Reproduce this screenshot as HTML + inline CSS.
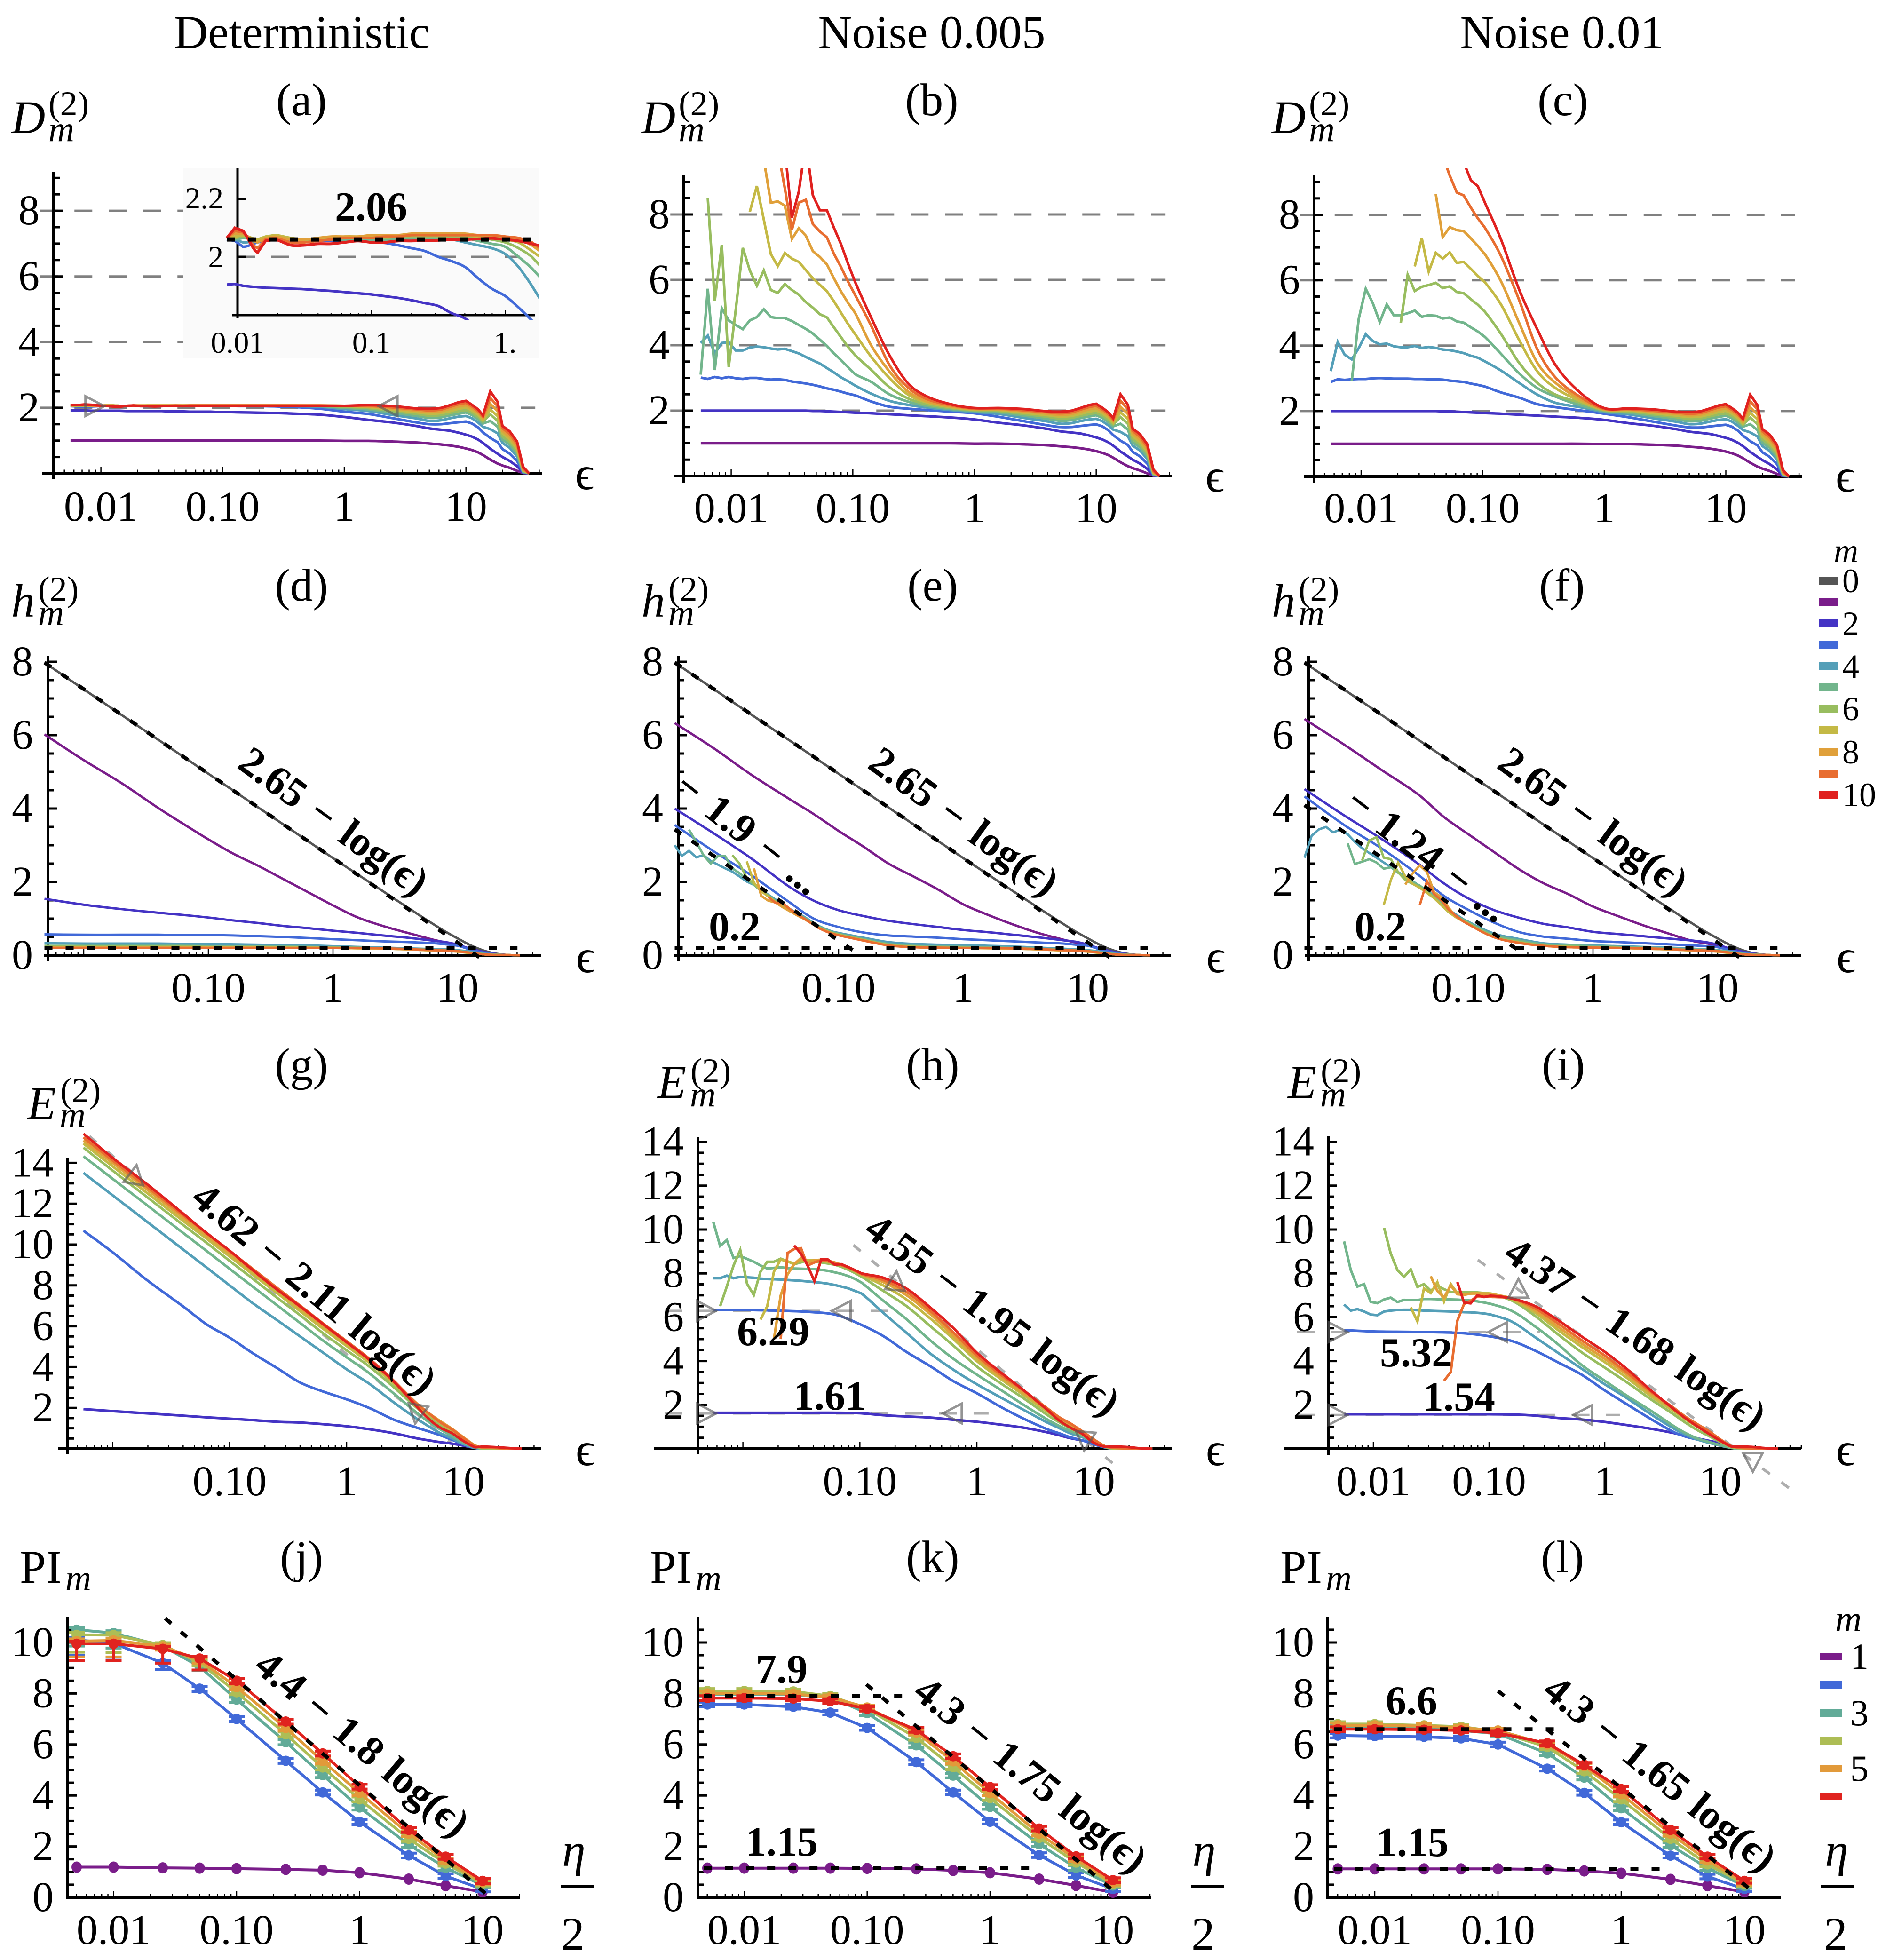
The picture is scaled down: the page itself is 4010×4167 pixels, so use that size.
<!DOCTYPE html>
<html lang="en">
<head>
<meta charset="utf-8">
<title>Correlation dimension, entropy and PI panels</title>
<style>
html,body{margin:0;padding:0;background:#fff}
svg{display:block}
text{font-family:"Liberation Serif","DejaVu Serif",serif;fill:#000}
.it{font-style:italic}
.b{font-weight:bold}
</style>
</head>
<body>
<svg id="fig" xmlns="http://www.w3.org/2000/svg" width="4010" height="4167" viewBox="0 0 4010 4167">
<rect width="4010" height="4167" fill="#fff"/>
<g id="plots"></g>
<g font-size="100" text-anchor="middle">
<text x="642" y="102">Deterministic</text>
<text x="1981" y="102">Noise 0.005</text>
<text x="3321" y="102">Noise 0.01</text>
</g>
<g font-size="97" text-anchor="middle">
<text x="641" y="245">(a)</text>
<text x="1981" y="245">(b)</text>
<text x="3323" y="245">(c)</text>
<text x="641" y="1277">(d)</text>
<text x="1983" y="1277">(e)</text>
<text x="3321" y="1277">(f)</text>
<text x="641" y="2296">(g)</text>
<text x="1983" y="2296">(h)</text>
<text x="3324" y="2296">(i)</text>
<text x="641" y="3343">(j)</text>
<text x="1983" y="3343">(k)</text>
<text x="3322" y="3343">(l)</text>
</g>
<g>
<g><text class="it" font-size="100" x="24" y="283">D</text><text font-size="74" x="103" y="245">(2)</text><text class="it" font-size="76" x="103" y="300">m</text></g>
<g><text class="it" font-size="100" x="1364" y="283">D</text><text font-size="74" x="1443" y="245">(2)</text><text class="it" font-size="76" x="1443" y="300">m</text></g>
<g><text class="it" font-size="100" x="2704" y="283">D</text><text font-size="74" x="2783" y="245">(2)</text><text class="it" font-size="76" x="2783" y="300">m</text></g>
<g><text class="it" font-size="100" x="24" y="1311">h</text><text font-size="74" x="81" y="1277">(2)</text><text class="it" font-size="76" x="81" y="1328">m</text></g>
<g><text class="it" font-size="100" x="1364" y="1311">h</text><text font-size="74" x="1421" y="1277">(2)</text><text class="it" font-size="76" x="1421" y="1328">m</text></g>
<g><text class="it" font-size="100" x="2704" y="1311">h</text><text font-size="74" x="2761" y="1277">(2)</text><text class="it" font-size="76" x="2761" y="1328">m</text></g>
<g><text class="it" font-size="100" x="58" y="2379">E</text><text font-size="74" x="128" y="2343">(2)</text><text class="it" font-size="76" x="127" y="2395">m</text></g>
<g><text class="it" font-size="100" x="1398" y="2334">E</text><text font-size="74" x="1468" y="2301">(2)</text><text class="it" font-size="76" x="1467" y="2352">m</text></g>
<g><text class="it" font-size="100" x="2738" y="2334">E</text><text font-size="74" x="2808" y="2301">(2)</text><text class="it" font-size="76" x="2807" y="2352">m</text></g>
<g><text font-size="100" x="42" y="3365">PI</text><text class="it" font-size="76" x="139" y="3380">m</text></g>
<g><text font-size="100" x="1382" y="3365">PI</text><text class="it" font-size="76" x="1479" y="3380">m</text></g>
<g><text font-size="100" x="2722" y="3365">PI</text><text class="it" font-size="76" x="2819" y="3380">m</text></g>
</g>
<g font-size="100" text-anchor="middle">
<text x="1243" y="1040">ϵ</text>
<text x="2583" y="1045">ϵ</text>
<text x="3923" y="1045">ϵ</text>
<text x="1245" y="2067">ϵ</text>
<text x="2585" y="2067">ϵ</text>
<text x="3925" y="2067">ϵ</text>
<text x="1244" y="3115">ϵ</text>
<text x="2584" y="3115">ϵ</text>
<text x="3924" y="3115">ϵ</text>
</g>
<g font-size="100" text-anchor="middle">
<g><text class="it" x="1220" y="3967">η</text><rect x="1192" y="4007" width="70" height="7" fill="#000"/><text x="1218" y="4145">2</text></g>
<g><text class="it" x="2560" y="3967">η</text><rect x="2532" y="4007" width="70" height="7" fill="#000"/><text x="2558" y="4145">2</text></g>
<g><text class="it" x="3905" y="3967">η</text><rect x="3871" y="4007" width="70" height="7" fill="#000"/><text x="3903" y="4145">2</text></g>
</g>
<g class="b" font-weight="bold" font-size="88" text-anchor="middle">
<text x="789" y="469">2.06</text>
<text word-spacing="8" transform="rotate(36 709 1747)" x="709" y="1775">2.65 − log(ϵ)</text>
<text word-spacing="8" transform="rotate(36 2049 1747)" x="2049" y="1775">2.65 − log(ϵ)</text>
<text word-spacing="8" transform="rotate(36 3387 1747)" x="3387" y="1775">2.65 − log(ϵ)</text>
<text word-spacing="8" transform="rotate(38 1591 1772)" x="1591" y="1800">− 1.9 − ...</text>
<text word-spacing="8" transform="rotate(37.5 3035 1818)" x="3035" y="1846">− 1.24 − ...</text>
<text x="1562" y="1999">0.2</text>
<text x="2935" y="1999">0.2</text>
<text word-spacing="6" transform="rotate(40 668 2740)" x="668" y="2768">4.62 − 2.11 log(ϵ)</text>
<text word-spacing="6" transform="rotate(37 2110 2796)" x="2110" y="2824">4.55 − 1.95 log(ϵ)</text>
<text word-spacing="6" transform="rotate(34.5 3477 2836)" x="3477" y="2864">4.37 − 1.68 log(ϵ)</text>
<text x="1644" y="2860">6.29</text>
<text x="1764" y="2997">1.61</text>
<text x="3011" y="2905">5.32</text>
<text x="3102" y="2999">1.54</text>
<text word-spacing="6" transform="rotate(40 770 3708)" x="770" y="3736">4.4 − 1.8 log(ϵ)</text>
<text word-spacing="6" transform="rotate(39 2191 3774)" x="2191" y="3802">4.3 − 1.75 log(ϵ)</text>
<text word-spacing="6" transform="rotate(39 3529 3771)" x="3529" y="3799">4.3 − 1.65 log(ϵ)</text>
<text x="1662" y="3578">7.9</text>
<text x="1662" y="3945">1.15</text>
<text x="3001" y="3645">6.6</text>
<text x="3003" y="3946">1.15</text>
</g>
<g font-size="72">
<text class="it" x="3925" y="1195" text-anchor="middle">m</text>
<rect x="3868" y="1226" width="40" height="17" fill="#555555"/><text x="3917" y="1259">0</text>
<rect x="3868" y="1272" width="40" height="17" fill="#7a1d8a"/>
<rect x="3868" y="1317" width="40" height="17" fill="#4433c4"/><text x="3917" y="1350">2</text>
<rect x="3868" y="1363" width="40" height="17" fill="#4169d8"/>
<rect x="3868" y="1408" width="40" height="17" fill="#549fb8"/><text x="3917" y="1441">4</text>
<rect x="3868" y="1453" width="40" height="17" fill="#72b58c"/>
<rect x="3868" y="1498" width="40" height="17" fill="#98bd5f"/><text x="3917" y="1531">6</text>
<rect x="3868" y="1544" width="40" height="17" fill="#c4b945"/>
<rect x="3868" y="1590" width="40" height="17" fill="#e0a03a"/><text x="3917" y="1623">8</text>
<rect x="3868" y="1636" width="40" height="17" fill="#e86d30"/>
<rect x="3868" y="1681" width="40" height="17" fill="#e0211f"/><text x="3917" y="1714">10</text>
</g>
<g font-size="78">
<text class="it" x="3930" y="3468" text-anchor="middle">m</text>
<rect x="3870" y="3514" width="47" height="16" fill="#7a1d8a"/><text x="3934" y="3548">1</text>
<rect x="3870" y="3574" width="47" height="16" fill="#4169d8"/>
<rect x="3870" y="3634" width="47" height="16" fill="#62ab98"/><text x="3934" y="3668">3</text>
<rect x="3870" y="3693" width="47" height="16" fill="#adbd55"/>
<rect x="3870" y="3752" width="47" height="16" fill="#e29a3a"/><text x="3934" y="3786">5</text>
<rect x="3870" y="3811" width="47" height="16" fill="#e0231f"/>
</g>
</svg>
<script>
const n = null;
/* ---------- shared x grids (log10 of epsilon / eta) ---------- */
const logD = [-2.25,-2.192,-2.135,-2.077,-2.02,-1.962,-1.904,-1.847,-1.789,-1.732,-1.674,-1.617,-1.559,-1.501,-1.444,-1.386,-1.329,-1.271,-1.213,-1.156,-1.098,-1.04,-.983,-.85,-.7,-.55,-.4,-.2,0,.2,.4,.6,.7,.8,.87,.94,1,1.05,1.1,1.14,1.2,1.26,1.3,1.36,1.42,1.47,1.52];
const logInset = [-2.08,-2.02,-1.96,-1.85,-1.79,-1.72,-1.6,-1.5,-1.4,-1.3,-1.2,-1.1,-1,-.9,-.8,-.7,-.6,-.5,-.4,-.3,-.2,-.1,0,.1,.2,.26];
const logHC = [-2.315,-2,-1.7,-1.4,-1.2,-1,-.8,-.6,-.4,-.2,0,.2,.4,.6,.8,.9,1,1.1,1.2,1.3,1.4,1.5];
const logHF = [-2.315,-2.257,-2.2,-2.142,-2.084,-2.026,-1.968,-1.91,-1.853,-1.795,-1.737,-1.679,-1.621,-1.564,-1.506,-1.448,-1.39,-1.332,-1.275,-1.217,-1.159,-1.101,-1.043,-.8,-.6,-.4,-.2,0,.2,.4,.6,.8,.9,1,1.1,1.2,1.3,1.4,1.5];
const logEC = [-2.25,-2,-1.7,-1.4,-1.2,-1,-.8,-.6,-.4,-.2,0,.2,.4,.6,.7,.8,.9,1,1.1,1.15,1.2,1.3,1.4,1.5];
const logEF = [-2.253,-2.195,-2.138,-2.08,-2.023,-1.965,-1.907,-1.85,-1.792,-1.735,-1.677,-1.619,-1.562,-1.504,-1.447,-1.389,-1.331,-1.274,-1.216,-1.159,-1.101,-1.043,-.986,-.8,-.6,-.4,-.2,0,.2,.4,.6,.7,.8,.9,1,1.1,1.15,1.2,1.3,1.4,1.5];
const logPI = [-2.3,-2,-1.6,-1.3,-1,-.6,-.3,0,.4,.7,1];
const xTickLogs = [-2,-1,0,1];
const xTickText = ['0.01','0.10','1','10'];
const xTickLogsNoLow = [-1,0,1];
const xTickTextNoLow = ['0.10','1','10'];

/* ---------- D panels: shared tail for eps > 1 ---------- */
const Dtail_m1 = [.99,.97,.94,.91,.88,.85,.81,.76,.71,.64,.56,.42,.3,.24,.17,.08,.01,0];
const Dtail_m2 = [1.63,1.55,1.44,1.37,1.33,1.3,1.24,1.18,1.12,1.03,.93,.75,.6,.5,.38,.22,.02,0];
const Dtail_m3 = [1.81,1.68,1.55,1.5,1.5,1.53,1.56,1.58,1.52,1.4,1.25,1.08,.95,.74,.6,.38,.03,0];
const Dtail_m4 = [1.9,1.78,1.67,1.6,1.62,1.68,1.73,1.75,1.68,1.55,1.42,1.35,1.22,.93,.78,.52,.04,0];
const Dtail_m5 = [1.95,1.85,1.75,1.69,1.71,1.77,1.82,1.86,1.78,1.65,1.52,1.6,1.42,1.03,.88,.6,.06,0];
const Dtail_m6 = [1.99,1.9,1.81,1.76,1.78,1.84,1.9,1.93,1.85,1.72,1.58,1.8,1.6,1.13,.96,.68,.08,0];
const Dtail_m7 = [2.02,1.94,1.86,1.82,1.84,1.9,1.97,2.01,1.92,1.79,1.62,1.95,1.75,1.22,1.04,.75,.1,0];
const Dtail_m8 = [2.04,1.98,1.91,1.87,1.9,1.97,2.04,2.08,1.98,1.85,1.68,2.12,1.9,1.3,1.12,.82,.12,0];
const Dtail_m9 = [2.06,2.01,1.95,1.92,1.95,2.03,2.11,2.15,2.04,1.9,1.73,2.3,2.05,1.38,1.2,.9,.15,0];
const Dtail_m10 = [2.08,2.05,1.98,1.97,2.0,2.08,2.17,2.21,2.09,1.95,1.77,2.5,2.18,1.45,1.28,.97,.2,0];
const Dhead_m1 = [1,1,1,1,1,1,1,1,1,1,1,1,1,1,1,1,1,1,1,1,1,1,1,1,1,1,1,1,.99];
const Dhead_bc_m2 = [2,2,2,2,2,2,2,2,2,2,2,2,2,2,2,2,1.99,1.99,1.98,1.97,1.96,1.95,1.94,1.92,1.89,1.86,1.83,1.79,1.73];
/* panel a */
const Da_m2 = [1.92,1.92,1.92,1.91,1.91,1.91,1.91,1.91,1.9,1.9,1.9,1.9,1.9,1.9,1.89,1.89,1.89,1.88,1.88,1.88,1.88,1.87,1.87,1.86,1.85,1.84,1.82,1.79,1.72];
const Da_m3 = [2.05,2.04,2.03,2.04,2.05,2.06,2.06,2.06,2.06,2.06,2.05,2.05,2.05,2.05,2.06,2.06,2.06,2.06,2.06,2.06,2.06,2.06,2.06,2.05,2.05,2.04,2.02,1.97,1.88];
const Da_m4 = [2.06,2.06,2.05,2.05,2.06,2.06,2.07,2.06,2.06,2.06,2.06,2.06,2.06,2.06,2.06,2.06,2.06,2.06,2.06,2.06,2.06,2.06,2.06,2.06,2.06,2.06,2.05,2.03,1.96];
const Da_m5 = [2.06,2.06,2.06,2.05,2.06,2.07,2.07,2.06,2.06,2.06,2.06,2.06,2.06,2.06,2.06,2.06,2.06,2.06,2.06,2.06,2.06,2.06,2.06,2.06,2.06,2.06,2.06,2.05,2.0];
const Da_m6 = [2.06,2.07,2.07,2.06,2.06,2.07,2.07,2.06,2.06,2.06,2.06,2.06,2.06,2.06,2.06,2.06,2.06,2.06,2.06,2.06,2.06,2.06,2.06,2.06,2.06,2.06,2.06,2.06,2.03];
const Da_m7 = [2.07,2.07,2.07,2.06,2.06,2.07,2.07,2.06,2.06,2.06,2.06,2.07,2.07,2.07,2.07,2.07,2.07,2.07,2.07,2.07,2.07,2.07,2.07,2.07,2.07,2.07,2.07,2.06,2.05];
const Da_m8 = [2.07,2.08,2.08,2.07,2.06,2.07,2.07,2.06,2.06,2.07,2.07,2.07,2.07,2.07,2.07,2.07,2.07,2.07,2.07,2.07,2.07,2.07,2.07,2.07,2.07,2.07,2.07,2.07,2.06];
const Da_m9 = [2.08,2.08,2.09,2.08,2.06,2.06,2.06,2.05,2.06,2.07,2.06,2.06,2.06,2.06,2.06,2.07,2.06,2.07,2.07,2.07,2.07,2.07,2.07,2.07,2.07,2.07,2.07,2.07,2.06];
const Da_m10 = [2.08,2.08,2.1,2.09,2.07,2.06,2.04,2.03,2.06,2.07,2.05,2.05,2.04,2.05,2.06,2.06,2.05,2.06,2.06,2.06,2.06,2.06,2.06,2.06,2.06,2.06,2.06,2.06,2.06];
/* inset of panel a */
const In_m2 = [1.904,1.906,1.9,1.895,1.893,1.892,1.89,1.888,1.885,1.882,1.878,1.874,1.87,1.864,1.858,1.85,1.84,1.83,1.805,1.787,1.75,1.72,1.68,1.64,1.6,1.57];
const In_m3 = [2.06,2.055,2.035,2.05,2.055,2.06,2.06,2.055,2.055,2.055,2.055,2.055,2.05,2.048,2.04,2.03,2.02,2.0,1.985,1.965,1.925,1.89,1.865,1.825,1.78,1.75];
const In_m4 = [2.06,2.06,2.05,2.055,2.06,2.065,2.06,2.06,2.06,2.06,2.06,2.06,2.06,2.06,2.06,2.06,2.06,2.06,2.06,2.05,2.04,2.03,2.01,1.965,1.9,1.855];
const In_m5 = [2.06,2.06,2.065,2.06,2.065,2.075,2.06,2.06,2.06,2.06,2.06,2.06,2.06,2.06,2.06,2.065,2.065,2.065,2.065,2.065,2.055,2.045,2.035,2.0,1.96,1.93];
const In_m6 = [2.06,2.065,2.07,2.06,2.07,2.075,2.06,2.06,2.06,2.065,2.065,2.065,2.065,2.065,2.07,2.07,2.07,2.07,2.07,2.07,2.065,2.06,2.05,2.03,2.0,1.97];
const In_m7 = [2.065,2.07,2.075,2.06,2.07,2.075,2.065,2.06,2.065,2.065,2.07,2.07,2.07,2.07,2.075,2.075,2.075,2.075,2.075,2.075,2.07,2.07,2.06,2.05,2.02,2.0];
const In_m8 = [2.065,2.08,2.08,2.05,2.065,2.07,2.06,2.06,2.065,2.07,2.07,2.07,2.075,2.075,2.075,2.08,2.08,2.08,2.08,2.08,2.075,2.075,2.07,2.06,2.04,2.02];
const In_m9 = [2.065,2.09,2.085,2.03,2.06,2.065,2.05,2.05,2.055,2.06,2.065,2.065,2.065,2.07,2.07,2.075,2.075,2.075,2.075,2.075,2.075,2.075,2.07,2.065,2.05,2.03];
const In_m10 = [2.065,2.1,2.09,2.015,2.055,2.06,2.04,2.04,2.045,2.045,2.05,2.055,2.05,2.05,2.055,2.055,2.056,2.057,2.06,2.06,2.062,2.064,2.06,2.055,2.045,2.038];
/* panel b */
const Db_m3 = [3.01,2.97,3.03,2.99,3.03,2.99,2.97,3.0,3.0,2.97,2.95,2.96,2.94,2.89,2.86,2.83,2.79,2.74,2.68,2.64,2.58,2.52,2.47,2.28,2.12,2.06,2.02,1.97,1.92];
const Db_m4 = [4.07,4.3,3.75,4.07,4.09,3.84,3.84,3.93,3.96,3.94,3.9,3.87,3.89,3.82,3.75,3.64,3.54,3.44,3.3,3.17,3.02,2.9,2.77,2.52,2.3,2.18,2.1,2.02,1.96];
const Db_m5 = [3.1,5.73,3.24,5.13,4.76,4.62,4.49,4.76,4.86,5.1,4.86,4.83,4.83,4.74,4.62,4.5,4.36,4.17,3.98,3.75,3.55,3.33,3.12,2.88,2.5,2.28,2.15,2.05,1.99];
const Db_m6 = [n,8.5,5.36,7.07,3.34,5.09,6.98,6.29,5.82,6.29,5.69,5.6,5.87,5.69,5.55,5.32,5.15,4.95,4.85,4.55,4.25,3.95,3.7,3.25,2.72,2.38,2.2,2.08,2.01];
const Db_m7 = [n,n,n,n,n,n,n,8.08,8.87,7.85,6.79,6.42,6.82,6.65,6.55,6.3,6.05,5.85,5.65,5.35,5.0,4.65,4.35,3.65,3.0,2.5,2.26,2.11,2.03];
const Db_m8 = [n,n,n,n,n,n,n,n,n,9.7,8.36,8.4,8.27,7.25,7.58,7.35,6.88,6.7,6.47,6.05,5.65,5.3,5.0,4.0,3.2,2.6,2.3,2.13,2.05];
const Db_m9 = [n,n,n,n,n,n,n,n,n,n,n,10,8.8,7.53,8.36,8.45,7.71,7.48,7.3,6.8,6.4,5.95,5.55,4.6,3.4,2.72,2.37,2.17,2.06];
const Db_m10 = [n,n,n,n,n,n,n,n,n,n,n,n,10,7.9,8.7,10.2,8.59,8.13,8.13,7.6,7.1,6.5,5.95,4.85,3.7,2.85,2.45,2.2,2.08];
/* panel c */
const Dc_m3 = [2.89,2.97,2.95,2.97,2.98,2.98,3.0,3.01,3.0,2.99,2.99,2.99,2.98,2.98,2.97,2.97,2.96,2.93,2.91,2.89,2.84,2.8,2.75,2.57,2.41,2.21,2.12,2.02,1.92];
const Dc_m4 = [3.22,4.11,3.72,3.58,3.92,4.35,4.14,4.04,4.06,3.98,3.95,3.95,3.99,3.93,3.96,3.93,3.88,3.86,3.82,3.77,3.69,3.63,3.52,3.24,2.86,2.5,2.25,2.12,1.97];
const Dc_m5 = [n,n,n,2.92,4.81,5.74,5.3,4.72,5.26,4.93,4.93,4.99,5.07,4.88,4.93,4.91,4.83,4.86,4.74,4.7,4.56,4.43,4.27,3.75,3.15,2.7,2.44,2.18,2.0];
const Dc_m6 = [n,n,n,n,n,n,n,n,n,n,4.69,6.17,5.67,5.8,5.85,5.92,5.76,5.81,5.64,5.6,5.42,5.25,5.04,4.36,3.47,2.86,2.5,2.26,2.02];
const Dc_m7 = [n,n,n,n,n,n,n,n,n,n,n,n,6.42,7.28,6.26,6.84,6.66,6.85,6.53,6.56,6.35,6.13,5.94,5.26,4.17,3.21,2.7,2.31,2.04];
const Dc_m8 = [n,n,n,n,n,n,n,n,n,n,n,n,n,n,n,8.63,7.32,7.62,7.53,7.5,7.28,7.05,6.8,5.97,4.69,3.47,2.86,2.37,2.05];
const Dc_m9 = [n,n,n,n,n,n,n,n,n,n,n,n,n,n,n,n,9.8,9.2,8.68,8.59,8.22,7.89,7.61,6.74,5.39,3.88,3.02,2.44,2.07];
const Dc_m10 = [n,n,n,n,n,n,n,n,n,n,n,n,n,n,n,n,n,n,n,9.6,9.06,8.87,8.38,7.25,5.71,4.49,3.4,2.57,2.09];

/* ---------- h panels ---------- */
const H_m0 = [7.98,7.25,6.56,5.87,5.41,4.95,4.49,4.03,3.57,3.11,2.65,2.2,1.75,1.3,.86,.65,.46,.28,.14,.05,.01,0];
const Hd_m1 = [6.02,5.32,4.7,4.01,3.58,3.16,2.77,2.44,2.08,1.72,1.36,1.03,.8,.61,.43,.35,.27,.16,.08,.03,.01,0];
const Hd_m2 = [1.54,1.38,1.26,1.16,1.1,1.03,.95,.88,.8,.74,.67,.61,.54,.48,.4,.36,.29,.18,.1,.04,.01,0];
const Hd_m3 = [.57,.56,.56,.56,.55,.55,.54,.52,.5,.47,.44,.41,.38,.36,.33,.3,.26,.16,.08,.03,.01,0];
const Hd_m4 = [.33,.32,.32,.32,.31,.31,.3,.29,.28,.27,.25,.23,.21,.19,.17,.16,.14,.1,.05,.02,.01,0];
const Hd_m5 = [.26,.26,.26,.26,.26,.25,.25,.24,.24,.23,.22,.21,.19,.17,.15,.14,.12,.08,.04,.02,.01,0];
const Hd_m6 = [.24,.24,.24,.24,.24,.23,.23,.23,.22,.22,.21,.2,.19,.16,.14,.13,.11,.07,.03,.01,.01,0];
const Hd_m7 = [.22,.22,.22,.22,.22,.22,.22,.21,.21,.21,.2,.19,.18,.16,.13,.12,.1,.06,.03,.01,.01,0];
const Hd_m8 = [.21,.21,.21,.21,.21,.21,.21,.21,.2,.2,.2,.19,.18,.16,.13,.12,.1,.07,.03,.01,.01,0];
const Hd_m9 = [.2,.2,.2,.2,.2,.2,.2,.2,.2,.2,.2,.2,.19,.17,.14,.13,.11,.07,.03,.01,.01,0];
const He_m1 = [6.33,5.64,4.92,4.27,3.85,3.39,2.96,2.5,2.15,1.79,1.39,1.1,.84,.61,.43,.35,.27,.16,.08,.03,.01,0];
const He_m2 = [4.0,3.32,2.64,1.88,1.49,1.23,1.07,.94,.85,.77,.69,.63,.56,.49,.41,.37,.29,.18,.1,.04,.01,0];
const He_m3 = [3.55,2.83,2.18,1.46,1.0,.77,.62,.54,.51,.48,.44,.41,.38,.35,.32,.29,.26,.16,.08,.03,.01,0];
const He_m4 = [3.0,2.71,2.85,2.67,2.73,2.57,2.47,2.37,2.28,2.15,2.01,1.92,1.79,1.65,1.52,1.39,1.26,1.15,1.05,.92,.8,.71,.64,.48,.36,.31,.29,.28,.26,.24,.21,.18,.16,.14,.1,.05,.02,.01,0];
const He_m5 = [n,n,3.42,3.09,2.73,2.5,2.7,2.7,2.37,2.24,2.08,1.92,1.75,1.62,1.48,1.35,1.23,1.12,1.02,.9,.78,.69,.62,.44,.31,.26,.24,.23,.22,.2,.18,.15,.14,.12,.08,.04,.02,.01,0];
const He_m6 = [n,n,n,n,n,n,n,n,2.73,2.5,2.11,1.95,1.77,1.62,1.46,1.33,1.21,1.1,1.0,.88,.76,.67,.6,.42,.29,.24,.22,.21,.2,.19,.17,.14,.13,.11,.07,.03,.01,.01,0];
const He_m7 = [n,n,n,n,n,n,n,n,n,n,2.56,1.98,1.75,1.6,1.45,1.32,1.2,1.09,.99,.87,.75,.66,.59,.41,.28,.23,.21,.2,.2,.18,.16,.13,.12,.1,.06,.03,.01,.01,0];
const He_m8 = [n,n,n,n,n,n,n,n,n,n,n,2.37,1.62,1.49,1.44,1.31,1.2,1.09,.99,.87,.75,.66,.58,.41,.27,.22,.2,.2,.19,.18,.16,.13,.12,.1,.07,.03,.01,.01,0];
const He_m9 = [n,n,n,n,n,n,n,n,n,n,n,n,n,1.59,1.43,1.42,1.26,1.12,1.0,.87,.74,.65,.58,.4,.27,.22,.21,.2,.2,.19,.17,.14,.13,.11,.07,.03,.01,.01,0];
const Hf_m1 = [6.44,5.75,5.06,4.38,3.78,3.3,2.83,2.36,1.97,1.67,1.33,1.07,.82,.6,.39,.33,.27,.16,.08,.03,.01,0];
const Hf_m2 = [4.53,3.82,3.18,2.49,1.97,1.55,1.24,1.03,.86,.76,.64,.58,.52,.46,.4,.36,.29,.18,.1,.04,.01,0];
const Hf_m3 = [4.33,3.56,2.92,2.19,1.63,1.24,.9,.64,.51,.45,.39,.36,.33,.3,.27,.25,.22,.14,.07,.03,.01,0];
const Hf_m4 = [2.66,3.26,3.43,3.5,3.35,3.43,3.3,3.09,2.92,2.79,2.66,2.53,2.4,2.27,2.15,2.02,1.89,1.76,1.63,1.42,1.24,1.12,.99,.6,.45,.33,.29,.27,.25,.23,.21,.18,.16,.14,.1,.05,.02,.01,0];
const Hf_m5 = [n,n,n,n,n,n,3.05,2.49,2.55,2.62,2.53,2.36,2.4,2.25,2.12,2.0,1.9,1.75,1.6,1.4,1.22,1.08,.97,.56,.41,.3,.27,.25,.23,.21,.19,.16,.15,.13,.09,.04,.02,.01,0];
const Hf_m6 = [n,n,n,n,n,n,n,n,2.58,3.13,3.22,2.66,2.62,2.27,2.05,1.95,1.85,1.72,1.58,1.38,1.2,1.06,.95,.52,.37,.27,.24,.22,.21,.19,.17,.14,.13,.11,.07,.03,.01,.01,0];
const Hf_m7 = [n,n,n,n,n,n,n,n,n,n,n,1.37,2.06,2.53,2.15,1.95,1.84,1.7,1.56,1.37,1.18,1.04,.93,.5,.35,.26,.23,.21,.2,.18,.16,.13,.12,.1,.06,.03,.01,.01,0];
const Hf_m8 = [n,n,n,n,n,n,n,n,n,n,n,n,n,n,1.93,2.23,2.45,2.27,1.72,1.59,1.3,1.06,.93,.5,.35,.26,.22,.21,.2,.18,.16,.13,.12,.1,.07,.03,.01,.01,0];
const Hf_m9 = [n,n,n,n,n,n,n,n,n,n,n,n,n,n,n,n,1.37,2.02,1.67,1.5,1.25,1.08,.93,.5,.34,.26,.22,.21,.2,.19,.17,.14,.13,.11,.07,.03,.01,.01,0];

/* ---------- E panels ---------- */
const Eg_m2 = [1.94,1.84,1.73,1.62,1.54,1.47,1.4,1.32,1.28,1.2,1.1,.95,.76,.51,.41,.32,.25,.15,.03,0,0,0,0,0];
const Eg_m3 = [10.68,9.62,8.23,6.98,6.1,5.44,4.67,3.97,3.25,2.8,2.42,1.98,1.43,1.03,.85,.66,.44,.22,.03,0,0,0,0,0];
const Eg_m4 = [13.51,12.41,11.09,9.77,8.89,8.0,7.12,6.32,5.51,4.7,3.89,3.16,2.28,1.47,1.1,.76,.51,.22,.03,0,0,0,0,0];
const Eg_m5 = [14.32,13.22,11.9,10.58,9.7,8.81,7.93,7.05,6.17,5.29,4.48,3.67,2.72,1.76,1.32,.95,.62,.29,.07,0,0,0,0,0];
const Eg_m6 = [14.75,13.62,12.3,10.97,10.1,9.2,8.32,7.42,6.55,5.65,4.82,4.0,3.03,2.0,1.55,1.15,.78,.42,.12,.02,.01,0,0,0];
const Eg_m7 = [14.95,13.83,12.5,11.17,10.3,9.42,8.53,7.65,6.75,5.87,5.03,4.18,3.2,2.13,1.68,1.27,.88,.5,.15,.05,.04,.02,0,0];
const Eg_m8 = [15.1,14.0,12.67,11.33,10.45,9.57,8.68,7.8,6.9,6.02,5.17,4.3,3.3,2.22,1.75,1.35,.98,.55,.15,.06,.05,.03,0,0];
const Eg_m9 = [15.25,14.12,12.8,11.45,10.58,9.68,8.8,7.9,7.02,6.13,5.27,4.38,3.35,2.2,1.75,1.3,.95,.52,.13,.07,.06,.03,.01,0];
const Eg_m10 = [15.43,14.25,12.93,11.53,10.58,9.7,8.74,7.82,6.98,6.1,5.22,4.33,3.31,2.06,1.47,1.03,.76,.37,.07,.1,.1,.07,.03,0];
const Eh_m2 = [1.64,1.64,1.64,1.64,1.64,1.62,1.53,1.47,1.42,1.32,1.23,1.1,.96,.75,.62,.48,.38,.25,.11,.03,0,0,0,0];
const Eh_m3 = [6.33,6.33,6.3,6.23,6.1,5.68,5.14,4.41,3.77,3.08,2.53,1.92,1.37,.89,.71,.52,.38,.2,.05,0,0,0,0,0];
const Eh_m4 = [7.78,7.78,7.9,7.78,7.84,7.82,7.8,7.76,7.74,7.73,7.72,7.7,7.68,7.66,7.63,7.6,7.57,7.53,7.47,7.4,7.32,7.2,7.08,6.2,5.28,4.35,3.6,2.94,2.35,1.77,1.2,.95,.7,.53,.29,.06,0,0,0,0,0];
const Eh_m5 = [10.34,9.25,9.52,8.7,8.79,8.66,8.53,8.36,8.22,8.25,8.28,8.24,8.22,8.21,8.2,8.19,8.16,8.12,8.05,7.98,7.88,7.75,7.58,6.75,5.9,4.95,4.1,3.38,2.7,2.0,1.34,1.05,.8,.58,.31,.07,0,0,0,0,0];
const Eh_m6 = [n,6.5,7.4,8.36,9.07,7.53,7.01,8.08,8.53,8.53,8.67,8.55,8.42,8.5,8.6,8.55,8.5,8.45,8.4,8.3,8.17,8.02,7.85,7.2,6.5,5.6,4.7,3.75,3.0,2.3,1.55,1.22,.92,.65,.35,.08,.02,.01,0,0,0];
const Eh_m7 = [n,n,n,n,n,n,n,5.89,6.5,8.08,8.63,8.55,8.45,8.6,8.6,8.6,8.58,8.52,8.45,8.36,8.25,8.1,7.93,7.45,6.8,5.95,5.0,4.0,3.2,2.45,1.7,1.35,1.03,.72,.38,.09,.03,.02,0,0,0];
const Eh_m8 = [n,n,n,n,n,n,n,n,n,5.0,6.99,7.95,8.42,8.7,8.5,8.6,8.62,8.58,8.5,8.4,8.28,8.13,7.96,7.6,7.0,6.15,5.15,4.15,3.3,2.55,1.8,1.42,1.12,.78,.42,.1,.04,.03,.01,0,0];
const Eh_m9 = [n,n,n,n,n,n,n,n,n,n,5.0,8.93,9.11,9.15,8.36,8.5,8.6,8.55,8.48,8.38,8.27,8.12,7.97,7.7,7.15,6.3,5.3,4.25,3.4,2.65,1.85,1.45,1.15,.8,.42,.1,.05,.03,.01,0,0];
const Eh_m10 = [n,n,n,n,n,n,n,n,n,n,n,n,9.27,8.9,8.36,7.64,8.63,8.63,8.4,8.42,8.29,8.15,8.0,7.8,7.3,6.45,5.5,4.38,3.5,2.67,1.78,1.3,.96,.68,.27,.08,.1,.1,.07,.02,0];
const Ei_m2 = [1.57,1.57,1.57,1.57,1.57,1.57,1.56,1.51,1.4,1.33,1.22,1.07,.91,.71,.58,.47,.36,.25,.09,.02,0,0,0,0];
const Ei_m3 = [5.41,5.35,5.33,5.31,5.26,5.13,4.91,4.47,3.93,3.38,2.66,2.0,1.35,.75,.55,.42,.3,.14,.03,0,0,0,0,0];
const Ei_m4 = [6.58,6.3,6.37,6.26,6.12,6.09,6.26,6.3,6.33,6.34,6.34,6.32,6.3,6.29,6.28,6.27,6.26,6.25,6.23,6.22,6.2,6.17,6.12,5.79,5.08,4.36,3.65,2.94,2.28,1.57,.91,.64,.42,.27,.14,.03,0,0,0,0,0];
const Ei_m5 = [9.46,8.15,7.4,7.51,6.7,6.64,6.81,6.89,6.69,6.79,6.78,6.78,6.83,6.83,6.82,6.81,6.81,6.8,6.78,6.76,6.72,6.67,6.61,6.28,5.57,4.75,3.82,3.1,2.39,1.73,1.02,.71,.47,.31,.16,.03,0,0,0,0,0];
const Ei_m6 = [n,n,n,n,n,n,10.07,8.91,8.15,7.84,8.18,7.38,7.51,7.21,7.42,7.28,7.15,7.13,7.14,7.14,7.13,7.1,7.05,6.75,6.05,5.2,4.4,3.7,3.0,2.25,1.55,1.18,.85,.58,.3,.06,.03,.02,.01,.01,0];
const Ei_m7 = [n,n,n,n,n,n,n,n,n,n,6.45,5.81,7.32,7.1,7.6,6.72,7.51,7.1,7.05,7.08,7.1,7.1,7.08,6.8,6.2,5.4,4.65,3.95,3.2,2.4,1.7,1.33,1.0,.7,.35,.08,.03,.02,.01,0,0];
const Ei_m8 = [n,n,n,n,n,n,n,n,n,n,n,n,n,7.87,7.2,6.9,7.45,7.05,7.02,7.08,7.08,7.07,7.05,6.85,6.3,5.55,4.8,4.1,3.35,2.52,1.8,1.42,1.1,.78,.4,.1,.05,.03,0,0,0];
const Ei_m9 = [n,n,n,n,n,n,n,n,n,n,n,n,n,n,n,3.1,3.5,5.84,6.6,6.75,6.95,6.95,6.93,6.85,6.4,5.7,4.95,4.25,3.45,2.6,1.85,1.45,1.12,.8,.42,.1,.05,.03,.01,0,0];
const Ei_m10 = [n,n,n,n,n,n,n,n,n,n,n,n,n,n,n,n,n,7.6,6.67,6.63,7.0,6.92,6.98,6.85,6.5,5.85,5.12,4.42,3.6,2.66,1.79,1.38,1.02,.68,.36,.09,.1,.1,.07,.02,0];

/* ---------- PI panels ---------- */
const Pj_m1 = [1.19,1.19,1.16,1.15,1.13,1.1,1.07,.97,.72,.46,.22];
const Pj_m2 = [10.1,9.97,9.19,8.19,7.0,5.36,4.12,2.96,1.65,.84,.32];
const Pj_m3 = [10.5,10.37,9.86,9.05,7.76,6.09,4.8,3.53,2.07,1.16,.48];
const Pj_m4 = [10.3,10.29,9.9,9.2,8.05,6.4,5.1,3.85,2.3,1.33,.55];
const Pj_m5 = [10.05,10.08,9.85,9.3,8.25,6.65,5.35,4.1,2.5,1.45,.6];
const Pj_m6 = [9.95,9.95,9.75,9.37,8.5,6.9,5.65,4.35,2.65,1.6,.65];
const Pk_m1 = [1.15,1.15,1.15,1.15,1.14,1.12,1.06,.97,.72,.47,.2];
const Pk_m2 = [7.57,7.57,7.48,7.25,6.65,5.31,4.12,2.97,1.66,.87,.33];
const Pk_m3 = [7.97,7.97,7.95,7.85,7.23,5.97,4.78,3.55,2.09,1.16,.47];
const Pk_m4 = [8.1,8.1,8.08,7.9,7.4,6.26,5.11,3.9,2.34,1.37,.53];
const Pk_m5 = [8.0,8.0,7.98,7.85,7.45,6.47,5.34,4.09,2.5,1.5,.58];
const Pk_m6 = [7.82,7.82,7.8,7.7,7.4,6.57,5.54,4.33,2.7,1.61,.68];
const Pl_m1 = [1.12,1.12,1.12,1.12,1.12,1.1,1.04,.95,.71,.46,.22];
const Pl_m2 = [6.35,6.33,6.3,6.24,6.0,5.05,4.1,2.95,1.64,.82,.33];
const Pl_m3 = [6.68,6.67,6.65,6.55,6.42,5.65,4.7,3.5,2.05,1.15,.45];
const Pl_m4 = [6.8,6.8,6.75,6.7,6.5,5.9,4.95,3.85,2.3,1.3,.53];
const Pl_m5 = [6.75,6.75,6.72,6.65,6.55,6.0,5.15,4.05,2.5,1.45,.58];
const Pl_m6 = [6.6,6.6,6.58,6.55,6.45,6.05,5.2,4.25,2.65,1.6,.65];
const errJ_m1 = [.04,.04,.04,.04,.04,.04,.04,.04,.04,.04,.04];
const errJ_m2 = [.6,.55,.25,.12,.1,.1,.1,.1,.1,.1,.1];
const errJ_m3 = [.64,.59,.1,.15,.12,.1,.1,.1,.1,.1,.1];
const errJ_m4 = [.68,.68,.12,.12,.1,.1,.1,.1,.1,.1,.1];
const errJ_m5 = [.62,.65,.15,.12,.1,.1,.1,.1,.1,.1,.1];
const errJ_m6 = [.66,.66,.56,.45,.12,.1,.1,.1,.1,.1,.1];
const errSmall = [.09,.09,.09,.09,.09,.09,.09,.09,.09,.09,.09];

/* ---------- colours ---------- */
const lineColors = ['#555555','#7a1d8a','#4433c4','#4169d8','#549fb8','#72b58c','#98bd5f','#c4b945','#e0a03a','#e86d30','#e0211f'];
const piColors = ['','#7a1d8a','#4169d8','#62ab98','#adbd55','#e29a3a','#e0231f'];

const NS = 'http://www.w3.org/2000/svg';
function add(parent, tag, attrs, txt){
  const el = document.createElementNS(NS, tag);
  for (const k in attrs) el.setAttribute(k, attrs[k]);
  if (txt !== undefined) el.textContent = txt;
  parent.appendChild(el);
  return el;
}
/* straight segments on the fine noisy grid, Hermite curves across sparse grid gaps */
function linePath(logs, vals, sx, sy, smooth){
  const pts = [];
  vals.forEach((v,i)=>{ if (v !== null) pts.push([logs[i], sx(logs[i]), sy(v)]); });
  const slope = i => {
    const a = pts[Math.max(i-1,0)], b = pts[Math.min(i+1,pts.length-1)];
    return (b[2]-a[2])/(b[1]-a[1]);
  };
  let d = 'M' + pts[0][1].toFixed(1) + ' ' + pts[0][2].toFixed(1);
  for (let i=1; i<pts.length; i++){
    const p = pts[i-1], q = pts[i];
    if (smooth && q[0]-p[0] >= .09){
      const h = (q[1]-p[1])/3;
      d += 'C' + (p[1]+h).toFixed(1) + ' ' + (p[2]+slope(i-1)*h).toFixed(1) + ' ' + (q[1]-h).toFixed(1) + ' ' + (q[2]-slope(i)*h).toFixed(1) + ' ' + q[1].toFixed(1) + ' ' + q[2].toFixed(1);
    } else {
      d += 'L' + q[1].toFixed(1) + ' ' + q[2].toFixed(1);
    }
  }
  return d;
}
function joinD(){
  const a = {a:[[1,Dhead_m1,Dtail_m1],[2,Da_m2,Dtail_m2],[3,Da_m3,Dtail_m3],[4,Da_m4,Dtail_m4],[5,Da_m5,Dtail_m5],[6,Da_m6,Dtail_m6],[7,Da_m7,Dtail_m7],[8,Da_m8,Dtail_m8],[9,Da_m9,Dtail_m9],[10,Da_m10,Dtail_m10]],
  b:[[1,Dhead_m1,Dtail_m1],[2,Dhead_bc_m2,Dtail_m2],[3,Db_m3,Dtail_m3],[4,Db_m4,Dtail_m4],[5,Db_m5,Dtail_m5],[6,Db_m6,Dtail_m6],[7,Db_m7,Dtail_m7],[8,Db_m8,Dtail_m8],[9,Db_m9,Dtail_m9],[10,Db_m10,Dtail_m10]],
  c:[[1,Dhead_m1,Dtail_m1],[2,Dhead_bc_m2,Dtail_m2],[3,Dc_m3,Dtail_m3],[4,Dc_m4,Dtail_m4],[5,Dc_m5,Dtail_m5],[6,Dc_m6,Dtail_m6],[7,Dc_m7,Dtail_m7],[8,Dc_m8,Dtail_m8],[9,Dc_m9,Dtail_m9],[10,Dc_m10,Dtail_m10]]};
  const out = {};
  for (const k in a) out[k] = a[k].map(r=>[r[0],logD,r[1].concat(r[2])]);
  return out;
}
const dSeries = joinD();
const GREY = '#808080', LIGHT = '#adadad';
const E_MAJ = [2,4,6,8,10,12,14], D_MAJ = [2,4,6,8], H_MAJ = [0,2,4,6,8], P_MAJ = [0,2,4,6,8,10];

const panels = [
 {id:'a',l0:732,dec:258.7,y0:1006.5,ys:69.8,ax:114,top:365,bot:1018,left:90,right:1152,ymaj:D_MAJ,yr:84,ty:xTickLogs,tt:xTickText,xb:1107,lw:5.5,
  series:dSeries.a,hdash:[[8,-2.5,.0,GREY],[6,-2.5,.0,GREY],[4,-2.5,.0,GREY],[2,-2.5,1.57,GREY]],tri:[[-2.05,2.05,0],[.36,2.05,180]]},
 {id:'b',l0:2072,dec:258.7,y0:1012,ys:69.5,ax:1454,top:373,bot:1026,left:1432,right:2491,ymaj:D_MAJ,yr:1424,ty:xTickLogs,tt:xTickText,xb:1110,lw:5.5,clip:357,
  series:dSeries.b,hdash:[[8,-2.5,1.57,GREY],[6,-2.5,1.57,GREY],[4,-2.5,1.57,GREY],[2,-2.5,1.57,GREY]]},
 {id:'c',l0:3411,dec:258.5,y0:1013,ys:69.55,ax:2794,top:373,bot:1026,left:2772,right:3831,ymaj:D_MAJ,yr:2764,ty:xTickLogs,tt:xTickText,xb:1110,lw:5.5,clip:357,
  series:dSeries.c,hdash:[[8,-2.5,1.57,GREY],[6,-2.5,1.57,GREY],[4,-2.5,1.57,GREY],[2,-2.5,1.57,GREY]]},
 {id:'d',l0:708,dec:265,y0:2031,ys:78,ax:102,top:1394,bot:2044,left:94,right:1150,ymaj:H_MAJ,yr:70,ty:xTickLogsNoLow,tt:xTickTextNoLow,xb:2130,lw:5,
  series:[[0,logHC,H_m0],[1,logHC,Hd_m1],[2,logHC,Hd_m2],[3,logHC,Hd_m3],[4,logHC,Hd_m4],[5,logHC,Hd_m5],[6,logHC,Hd_m6],[7,logHC,Hd_m7],[8,logHC,Hd_m8],[9,logHC,Hd_m9]],
  fitsTop:[[2.65,-1,-2.315,1.255]],hTop:[[.2,-2.315,1.48]]},
 {id:'e',l0:2048,dec:265,y0:2031,ys:78,ax:1442,top:1394,bot:2044,left:1434,right:2490,ymaj:H_MAJ,yr:1410,ty:xTickLogsNoLow,tt:xTickTextNoLow,xb:2130,lw:5,
  series:[[0,logHC,H_m0],[1,logHC,He_m1],[2,logHC,He_m2],[3,logHC,He_m3],[4,logHF,He_m4],[5,logHF,He_m5],[6,logHF,He_m6],[7,logHF,He_m7],[8,logHF,He_m8],[9,logHF,He_m9]],
  fitsTop:[[2.65,-1,-2.315,1.255],[-1.9,-1,-2.315,-.875]],hTop:[[.2,-2.315,1.48]]},
 {id:'f',l0:3387,dec:265,y0:2031,ys:78,ax:2782,top:1394,bot:2044,left:2774,right:3829,ymaj:H_MAJ,yr:2750,ty:xTickLogsNoLow,tt:xTickTextNoLow,xb:2130,lw:5,
  series:[[0,logHC,H_m0],[1,logHC,Hf_m1],[2,logHC,Hf_m2],[3,logHC,Hf_m3],[4,logHF,Hf_m4],[5,logHF,Hf_m5],[6,logHF,Hf_m6],[7,logHF,Hf_m7],[8,logHF,Hf_m8],[9,logHF,Hf_m9]],
  fitsTop:[[2.65,-1,-2.315,1.255],[-1.24,-1,-2.315,-.55]],hTop:[[.2,-2.315,1.48]]},
 {id:'g',l0:737,dec:248.7,y0:3080,ys:43.4,ax:144,top:2461,bot:3092,left:124,right:1151,ymaj:E_MAJ,yr:114,ty:xTickLogsNoLow,tt:xTickTextNoLow,xb:3179,lw:5.5,
  series:[[2,logEC,Eg_m2],[3,logEC,Eg_m3],[4,logEC,Eg_m4],[5,logEC,Eg_m5],[6,logEC,Eg_m6],[7,logEC,Eg_m7],[8,logEC,Eg_m8],[9,logEC,Eg_m9],[10,logEC,Eg_m10]],
  fitsUnder:[[4.62,-2.11,-2.2,.89]],tri:[[-1.81,13.44,-80],[.6,1.69,100]]},
 {id:'h',l0:2077,dec:248.7,y0:3080,ys:46.6,ax:1484,top:2417,bot:3092,left:1390,right:2491,ymaj:E_MAJ,yr:1454,ty:xTickLogsNoLow,tt:xTickTextNoLow,xb:3179,lw:5.5,
  series:[[2,logEC,Eh_m2],[3,logEC,Eh_m3],[4,logEF,Eh_m4],[5,logEF,Eh_m5],[6,logEF,Eh_m6],[7,logEF,Eh_m7],[8,logEF,Eh_m8],[9,logEF,Eh_m9],[10,logEF,Eh_m10]],
  fitsUnder:[[4.55,-1.95,-1.055,1.2]],hdash:[[6.29,-2.67,-.76,LIGHT],[1.61,-2.67,.1,LIGHT]],tri:[[-2.31,6.29,0],[-1.16,6.29,180],[-2.31,1.61,0],[-.21,1.61,180],[-.694,7.67,-85],[.924,.34,95]]},
 {id:'i',l0:3412,dec:246,y0:3080,ys:46.6,ax:2824,top:2415,bot:3094,left:2730,right:3830,ymaj:E_MAJ,yr:2794,ty:xTickLogs,tt:xTickText,xb:3179,lw:5.5,
  series:[[2,logEC,Ei_m2],[3,logEC,Ei_m3],[4,logEF,Ei_m4],[5,logEF,Ei_m5],[6,logEF,Ei_m6],[7,logEF,Ei_m7],[8,logEF,Ei_m8],[9,logEF,Ei_m9],[10,logEF,Ei_m10]],
  fitsUnder:[[4.37,-1.68,-1.097,1.6]],hdash:[[5.32,-2.66,-.56,LIGHT],[1.54,-2.66,.13,LIGHT]],tri:[[-2.305,5.32,0],[-.925,5.32,180],[-2.305,1.54,0],[-.19,1.54,180],[-.746,7.32,-90],[1.28,-.62,90]]},
 {id:'j',l0:764.5,dec:261.5,y0:4034,ys:54.2,ax:144,top:3438,bot:4037,left:141,right:1106,ymaj:P_MAJ,yr:114,ty:xTickLogs,tt:xTickText,xb:4133,ymax:11,
  pi:[[1,Pj_m1,errJ_m1],[2,Pj_m2,errJ_m2],[3,Pj_m3,errJ_m3],[4,Pj_m4,errJ_m4],[5,Pj_m5,errJ_m5],[6,Pj_m6,errJ_m6]],fitsTop:[[4.4,-1.8,-1.58,1.085]]},
 {id:'k',l0:2105,dec:261.3,y0:4034,ys:54.2,ax:1484,top:3438,bot:4037,left:1481,right:2447,ymaj:P_MAJ,yr:1454,ty:xTickLogs,tt:xTickText,xb:4133,ymax:11,
  pi:[[1,Pk_m1,errJ_m1],[2,Pk_m2,errSmall],[3,Pk_m3,errSmall],[4,Pk_m4,errSmall],[5,Pk_m5,errSmall],[6,Pk_m6,errSmall]],fitsTop:[[4.3,-1.75,-1.007,1.02]],hTop:[[7.9,-2.33,-.67],[1.15,-2.33,.36]]},
 {id:'l',l0:3447,dec:262,y0:4034,ys:54.2,ax:2823,top:3438,bot:4037,left:2820,right:3787,ymaj:P_MAJ,yr:2794,ty:xTickLogs,tt:xTickText,xb:4133,ymax:11,
  pi:[[1,Pl_m1,errJ_m1],[2,Pl_m2,errSmall],[3,Pl_m3,errSmall],[4,Pl_m4,errSmall],[5,Pl_m5,errSmall],[6,Pl_m6,errSmall]],fitsTop:[[4.3,-1.65,-1,1.1]],hTop:[[6.6,-2.33,-.49],[1.12,-2.33,.37]]}
];

const root = document.getElementById('plots');
const defs = add(root,'defs',{});

function drawAxes(g,p,sx,sy){
  const ax = add(g,'g',{stroke:'#000',fill:'none'});
  
  
  const ya = add(ax,'line',{x1:p.ax,x2:p.ax,y1:p.top,y2:p.bot,'stroke-width':6});
  
  
  const xa = add(ax,'line',{x1:p.left,x2:p.right,y1:p.y0,y2:p.y0,'stroke-width':6});
  
  
  const top = (p.y0-p.top)/p.ys;
  for (let v=0; v<=top+1e-6; v+=.5){
    if (v===0) continue;
    const major = p.ymaj.indexOf(v)>=0;
    const t = add(ax,'line',{x1:p.ax,x2:p.ax+(major?19:13),y1:sy(v),y2:sy(v),'stroke-width':5});
    
    
  }
  p.ymaj.forEach(v=>{
    const t = add(g,'text',{x:p.yr,y:(sy(v)+29).toFixed(1),'text-anchor':'end','font-size':90},String(v));
    
    
  });
  for (let d=-3; d<=1; d++){
    for (let k=1; k<=9; k++){
      const l = d+Math.log10(k), x = sx(l);
      if (x<p.ax || x>p.right) continue;
      const t = add(ax,'line',{x1:x,x2:x,y1:p.y0,y2:p.y0-(k===1?14:8),'stroke-width':2.5});
      
      
    }
  }
  p.ty.forEach((l,i)=>{
    const t = add(g,'text',{x:sx(l).toFixed(1),y:p.xb,'text-anchor':'middle','font-size':90},p.tt[i]);
    
    
  });
}
function hDash(g,row,sx,sy,off){
  const el = add(g,'line',{x1:sx(row[1]),x2:sx(row[2]),y1:sy(row[0]),y2:sy(row[0]),stroke:row[3],'stroke-width':5,'stroke-dasharray':'38 35'});
  
  
}
function fitLine(g,f,sx,sy,color,w,dash){
  const val = l => f[0]+f[1]*Math.LN10*l;
  const el = add(g,'line',{x1:sx(f[2]),y1:sy(val(f[2])),x2:sx(f[3]),y2:sy(val(f[3])),stroke:color,'stroke-width':w,'stroke-dasharray':dash});
  
  
}
function triangle(g,t,sx,sy){
  const el = add(g,'polygon',{points:'20,0 -20,21 -20,-21',fill:'none',stroke:'rgba(90,90,90,.65)','stroke-width':5,transform:'translate('+sx(t[0]).toFixed(1)+' '+sy(t[1]).toFixed(1)+') rotate('+t[2]+')'});
  
  
}
function drawPanel(p){
  const g = add(root,'g',{});
  
  
  const sx = l => p.l0+p.dec*l;
  const sy = v => p.y0-p.ys*v;
  (p.hdash||[]).forEach(r=>hDash(g,r,sx,sy));
  (p.fitsUnder||[]).forEach(f=>fitLine(g,f,sx,sy,LIGHT,6,'20 30'));
  drawAxes(g,p,sx,sy);
  let holder = g;
  if (p.clip){
    const cp = add(defs,'clipPath',{id:'clip-'+p.id});
    add(cp,'rect',{x:p.left,y:p.clip,width:p.right-p.left,height:p.y0-p.clip+20});
    holder = add(g,'g',{'clip-path':'url(#clip-'+p.id+')'});
  }
  (p.series||[]).forEach(s=>{
    const el = add(holder,'path',{d:linePath(s[1],s[2],sx,sy,true),fill:'none',stroke:lineColors[s[0]],'stroke-width':p.lw,'stroke-linejoin':'miter'});
    
    
  });
  (p.pi||[]).forEach(s=>{
    const m = s[0], vals = s[1], errs = s[2], c = piColors[m];
    const el = add(g,'path',{d:linePath(logPI,vals,sx,sy,false),fill:'none',stroke:c,'stroke-width':6});
    
    
    vals.forEach((v,i)=>{
      const x = sx(logPI[i]), lo = sy(v-errs[i]), hi = sy(v+Math.min(errs[i],.09));
      const bar = add(g,'path',{d:'M'+x+' '+lo+'L'+x+' '+hi+'M'+(x-17)+' '+lo+'H'+(x+17)+'M'+(x-17)+' '+hi+'H'+(x+17),stroke:c,'stroke-width':m===1?0:6,fill:'none'});
      
      
      const pt = add(g,'ellipse',{cx:x,cy:sy(v),rx:11,ry:m===1?12:11,fill:c});
      
      
    });
  });
  (p.tri||[]).forEach(t=>triangle(g,t,sx,sy));
  (p.fitsTop||[]).forEach(f=>fitLine(g,f,sx,sy,'#000',8,'17 27'));
  (p.hTop||[]).forEach(r=>{
    const el = add(g,'line',{x1:sx(r[1]),x2:sx(r[2]),y1:sy(r[0]),y2:sy(r[0]),stroke:'#000','stroke-width':8,'stroke-dasharray':'17 28'});
    
    
  });
}
panels.forEach(drawPanel);

/* inset of panel (a) */
const inset = {l0:1074,dec:284.5,y2:546,ys:615,ax:505,axY:670,left:494,right:1137};
const insetSeries = [[2,In_m2],[3,In_m3],[4,In_m4],[5,In_m5],[6,In_m6],[7,In_m7],[8,In_m8],[9,In_m9],[10,In_m10]];
const insetTickLogs = [-2,-1,0];
const insetTickText = ['0.01','0.1','1.'];
const insetYTicks = [2,2.2];
(function(){
  const g = add(root,'g',{});
  
  
  const sx = l => inset.l0+inset.dec*l;
  const sy = v => inset.y2-inset.ys*(v-2);
  const bg = add(g,'rect',{x:390,y:357,width:757,height:405,fill:'#fafafa'});
  
  
  const cp = add(defs,'clipPath',{id:'clip-inset'});
  add(cp,'rect',{x:390,y:357,width:757,height:323});
  const d2 = add(g,'line',{x1:inset.ax,x2:1105,y1:sy(2),y2:sy(2),stroke:GREY,'stroke-width':5,'stroke-dasharray':'38 33'});
  
  
  const ya = add(g,'line',{x1:inset.ax,x2:inset.ax,y1:357,y2:677,stroke:'#000','stroke-width':5});
  
  
  const xa = add(g,'line',{x1:inset.left,x2:inset.right,y1:inset.axY,y2:inset.axY,stroke:'#000','stroke-width':5});
  
  
  insetYTicks.forEach(v=>{
    const t = add(g,'line',{x1:inset.ax,x2:inset.ax+19,y1:sy(v),y2:sy(v),stroke:'#000','stroke-width':5});
    
    
    const lab = add(g,'text',{x:475,y:(sy(v)+(v===2?22:20)).toFixed(1),'text-anchor':'end','font-size':65},v===2?'2':'2.2');
    
    
  });
  for (let d=-2; d<=0; d++){
    for (let k=1; k<=9; k++){
      const x = sx(d+Math.log10(k));
      if (x>inset.right) continue;
      const t = add(g,'line',{x1:x,x2:x,y1:inset.axY,y2:inset.axY-(k===1?10:5),stroke:'#000','stroke-width':2});
      
      
    }
  }
  insetTickLogs.forEach((l,i)=>{
    const lab = add(g,'text',{x:sx(l).toFixed(1),y:750,'text-anchor':'middle','font-size':65},insetTickText[i]);
    
    
  });
  const holder = add(g,'g',{'clip-path':'url(#clip-inset)'});
  insetSeries.forEach(s=>{
    const el = add(holder,'path',{d:linePath(logInset,s[1],sx,sy,true),fill:'none',stroke:lineColors[s[0]],'stroke-width':s[0]===10?6:5.5});
    
    
  });
  const fit = add(g,'line',{x1:482,x2:1147,y1:sy(2.06),y2:sy(2.06),stroke:'#000','stroke-width':9,'stroke-dasharray':'17 28'});
  
  
})();
</script>
</body>
</html>
